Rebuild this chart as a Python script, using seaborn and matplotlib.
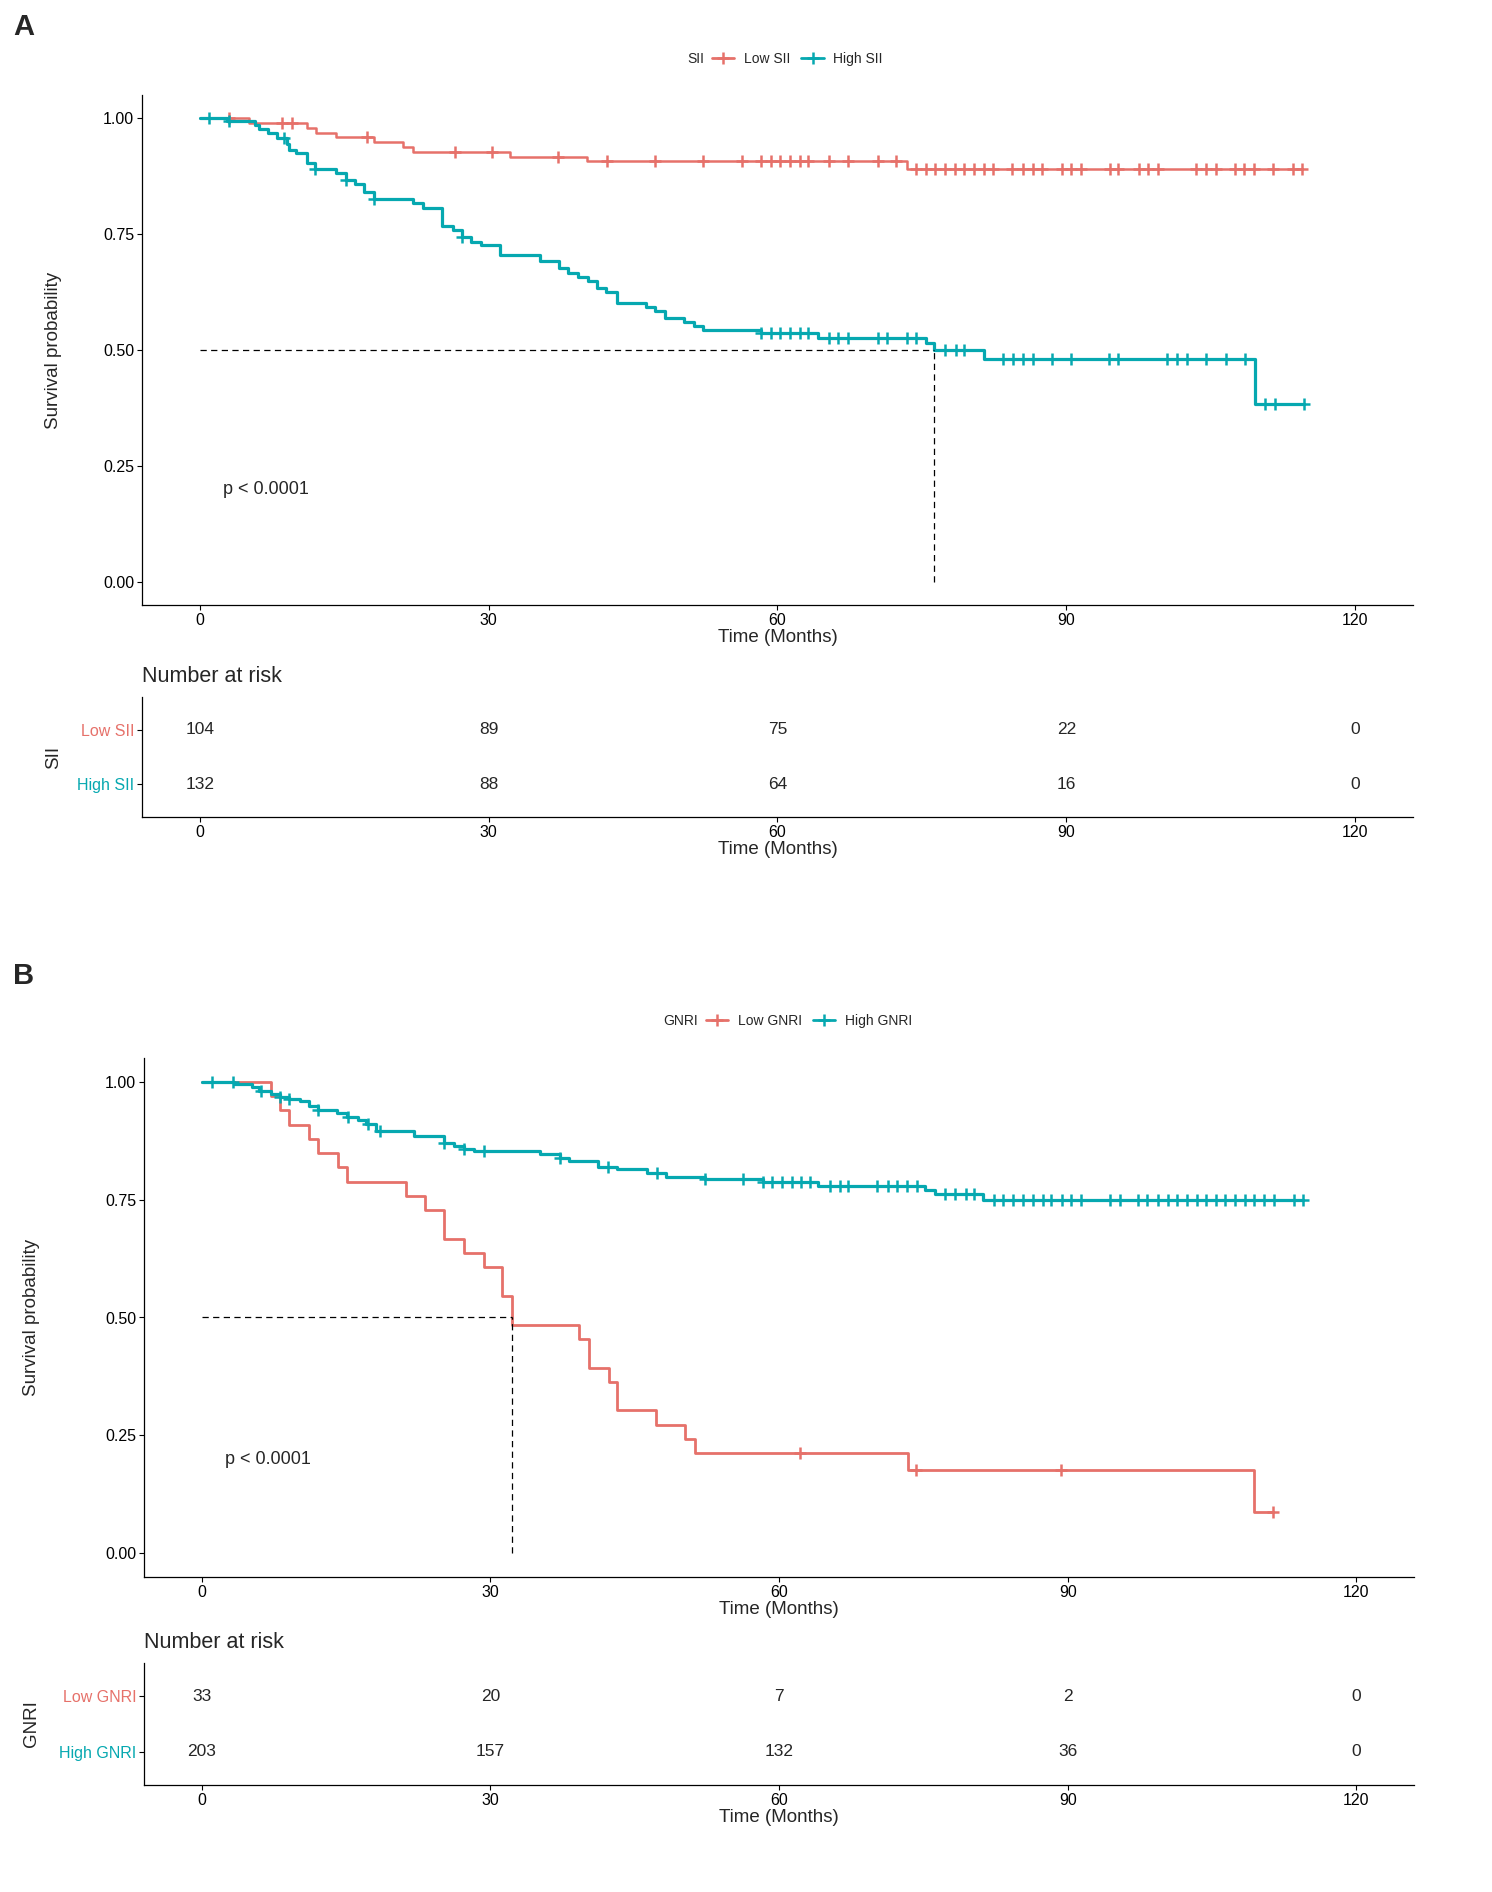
import numpy as np
import pandas as pd
import matplotlib
matplotlib.use("Agg")
import matplotlib.pyplot as plt
import seaborn as sns
from matplotlib.lines import Line2D

RED = "#E6716A"
TEAL = "#06A8B0"

# ------------------------- Panel A : SII -------------------------#
A_low_event_t = [5.1, 11.1, 12.1, 14.1, 18.1, 21.1, 22.1, 32.2, 40.2, 73.4]
A_low_surv = [0.990, 0.979, 0.969, 0.959, 0.949, 0.938, 0.928, 0.917, 0.907, 0.891]
A_low_cens = [3.0, 8.5, 9.6, 17.4, 26.5, 30.4, 37.2, 42.3, 47.3, 52.3, 56.3, 58.3,
              59.3, 60.3, 61.3, 62.3, 63.2, 65.3, 67.3, 70.4, 72.3, 74.4, 75.4, 76.4,
              77.4, 78.4, 79.4, 80.4, 81.4, 82.4, 84.4, 85.5, 86.5, 87.5, 89.5, 90.5,
              91.5, 94.5, 95.4, 97.5, 98.5, 99.5, 103.5, 104.5, 105.5, 107.5, 108.5,
              109.5, 111.5, 113.5, 114.5]

A_high_event_t = [2.8, 5.7, 6.1, 7.1, 8.0, 9.1, 9.3, 10.0, 11.1, 12.0, 14.1, 15.2,
                  16.1, 17.1, 18.1, 22.1, 23.2, 25.2, 26.3, 27.2, 28.2, 29.2, 31.2,
                  35.3, 37.3, 38.2, 39.3, 40.3, 41.3, 42.2, 43.3, 46.3, 47.3, 48.3,
                  50.3, 51.3, 52.3, 58.3, 64.2, 75.4, 76.3, 81.4, 109.6]
A_high_surv = [0.993, 0.985, 0.976, 0.967, 0.958, 0.945, 0.932, 0.924, 0.904, 0.891,
               0.881, 0.866, 0.858, 0.841, 0.825, 0.816, 0.807, 0.767, 0.759, 0.744,
               0.734, 0.726, 0.705, 0.692, 0.676, 0.667, 0.658, 0.649, 0.633, 0.626,
               0.602, 0.593, 0.585, 0.568, 0.560, 0.552, 0.543, 0.536, 0.525, 0.516,
               0.500, 0.480, 0.384]
A_high_cens = [1.0, 3.0, 8.7, 12.0, 15.2, 18.1, 27.2, 58.3, 59.3, 60.3, 61.3, 62.3,
               63.2, 65.3, 66.3, 67.3, 70.4, 71.4, 73.4, 74.4, 77.4, 78.5, 79.4, 83.4,
               84.5, 85.5, 86.5, 88.5, 90.5, 94.4, 95.4, 100.5, 101.5, 102.5, 104.5,
               106.6, 108.6, 110.6, 111.7, 114.7]

A_median = 76.3
A_groups = ["Low SII", "High SII"]
A_risk_times = [0, 30, 60, 90, 120]
A_risk_low = [104, 89, 75, 22, 0]
A_risk_high = [132, 88, 64, 16, 0]

# ------------------------- Panel B : GNRI -------------------------#
B_low_event_t = [7.2, 8.1, 9.1, 11.2, 12.1, 14.2, 15.1, 21.2, 23.2, 25.2, 27.3, 29.3,
                 31.2, 32.2, 39.2, 40.2, 42.3, 43.2, 47.2, 50.2, 51.3, 73.4, 109.4]
B_low_surv = [0.970, 0.939, 0.909, 0.879, 0.848, 0.818, 0.788, 0.758, 0.727, 0.667,
              0.636, 0.606, 0.545, 0.485, 0.455, 0.394, 0.364, 0.303, 0.273, 0.242,
              0.212, 0.177, 0.088]
B_low_cens = [62.2, 74.2, 89.3, 111.3]

B_high_event_t = [3.4, 5.2, 6.0, 7.2, 8.1, 9.1, 10.2, 11.2, 12.1, 14.1, 15.1, 16.2,
                  17.1, 18.1, 22.1, 25.2, 26.2, 27.3, 28.3, 35.2, 37.2, 38.2, 41.2,
                  43.2, 46.3, 48.3, 52.3, 58.3, 64.1, 75.2, 76.2, 81.2]
B_high_surv = [0.995, 0.989, 0.979, 0.973, 0.968, 0.964, 0.958, 0.949, 0.939, 0.933,
               0.926, 0.919, 0.911, 0.895, 0.884, 0.870, 0.863, 0.858, 0.853, 0.846,
               0.839, 0.832, 0.819, 0.815, 0.807, 0.798, 0.793, 0.788, 0.779, 0.771,
               0.761, 0.749]
B_high_cens = [1.1, 3.2, 6.2, 8.1, 9.1, 12.1, 15.2, 17.3, 18.5, 25.2, 27.3, 29.3, 37.2,
               42.2, 47.3, 52.3, 56.3, 58.3, 59.3, 60.3, 61.3, 62.3, 63.2, 65.3, 66.3,
               67.2, 70.2, 71.3, 72.3, 73.3, 74.3, 77.3, 78.3, 79.4, 80.3, 82.3, 83.3,
               84.3, 85.4, 86.4, 87.4, 88.3, 89.4, 90.4, 91.4, 94.4, 95.4, 97.3, 98.3,
               99.4, 100.4, 101.4, 102.4, 103.4, 104.4, 105.4, 106.4, 107.4, 108.4,
               109.4, 110.4, 111.4, 113.5, 114.5]

B_median = 32.2
B_groups = ["Low GNRI", "High GNRI"]
B_risk_times = [0, 30, 60, 90, 120]
B_risk_low = [33, 20, 7, 2, 0]
B_risk_high = [203, 157, 132, 36, 0]

x_ticks = [0, 30, 60, 90, 120]
y_ticks = [0.0, 0.25, 0.5, 0.75, 1.0]

sns.set_style("ticks")
plt.rcParams['font.family'] = ['Liberation Sans', 'DejaVu Sans']

W, H = 1492, 1892
fig = plt.figure(figsize=(W / 100, H / 100), dpi=100)


def px_axes(left, top, right, bottom):
    # axes box given in pixel positions of the figure
    return fig.add_axes([left / W, 1 - bottom / H, (right - left) / W, (bottom - top) / H])


def km_frame(ev_t, surv, cens):
    end = max(ev_t[-1], max(cens))
    t = [0.0] + list(ev_t) + [end]
    s = [1.0] + list(surv) + [surv[-1]]
    return pd.DataFrame({"time": t, "surv": s})


def surv_at(ev_t, surv, times):
    idx = np.searchsorted(np.array(ev_t), np.array(times), side="right")
    s = np.concatenate([[1.0], surv])
    return s[idx]


def style_axis(ax):
    for side in ["top", "right"]:
        ax.spines[side].set_visible(False)
    for side in ["left", "bottom"]:
        ax.spines[side].set_linewidth(0.9)
        ax.spines[side].set_color("black")
    ax.tick_params(length=3.5, width=0.8, color="black", labelsize=11.5,
                   labelcolor="black", pad=2)


def draw_panel(ax, axr, curves, median, groups, risk_times, risk_rows,
               var, ylab_x):
    for df, cens_t, cens_s, color, lw in curves:
        sns.lineplot(data=df, x="time", y="surv", drawstyle="steps-post",
                     color=color, linewidth=lw, estimator=None, sort=False, ax=ax)
        ax.plot(cens_t, cens_s, linestyle="none", marker="+", ms=8, mew=1.8,
                color=color)
    # median lines
    ax.plot([0, median], [0.5, 0.5], color="black", lw=0.9, ls=(0, (5, 3.5)))
    ax.plot([median, median], [0, 0.5], color="black", lw=0.9, ls=(0, (5, 3.5)))
    ax.text(2.4, 0.2, "p < 0.0001", fontsize=13, ha="left", va="center")

    ax.set_xlim(-6, 126)
    ax.set_ylim(-0.05, 1.05)
    ax.set_xticks(x_ticks)
    ax.set_yticks(y_ticks)
    ax.set_yticklabels(["%.2f" % v for v in y_ticks])
    ax.set_xlabel("Time (Months)", fontsize=13.5, labelpad=1)
    ax.set_ylabel("Survival probability", fontsize=13.5)
    ax.yaxis.set_label_coords(ylab_x, 0.5)
    style_axis(ax)

    # risk table
    row_y = [2, 1]
    colors = [RED, TEAL]
    for y, counts in zip(row_y, risk_rows):
        for t, n in zip(risk_times, counts):
            axr.text(t, y, str(n), fontsize=12.5, ha="center", va="center")
    axr.set_xlim(-6, 126)
    axr.set_ylim(0.4, 2.6)
    axr.set_xticks(x_ticks)
    axr.set_yticks(row_y)
    axr.set_yticklabels(groups)
    axr.set_xlabel("Time (Months)", fontsize=13.5, labelpad=1)
    axr.set_ylabel(var, fontsize=13.5)
    axr.yaxis.set_label_coords(ylab_x, 0.5)
    style_axis(axr)
    for lab, c in zip(axr.get_yticklabels(), colors):
        lab.set_color(c)


def legend(var, groups, title_x, keys_x, y):
    fig.text(title_x / W, 1 - y / H, var, fontsize=10, ha="left", va="center")
    handles = [Line2D([0], [0], color=RED, lw=2, marker="+", ms=8, mew=1.8),
               Line2D([0], [0], color=TEAL, lw=2, marker="+", ms=8, mew=1.8)]
    fig.legend(handles, groups, loc="center left",
               bbox_to_anchor=(keys_x / W, 1 - y / H), frameon=False, ncol=2,
               fontsize=10, handlelength=1.6, handletextpad=0.7, columnspacing=0.8,
               borderpad=0, borderaxespad=0)


# ---------- A ----------
axA = px_axes(142, 95, 1413, 605)
axA_r = px_axes(142, 697, 1413, 817)
curvesA = [
    (km_frame(A_low_event_t, A_low_surv, A_low_cens), A_low_cens,
     surv_at(A_low_event_t, A_low_surv, A_low_cens), RED, 1.8),
    (km_frame(A_high_event_t, A_high_surv, A_high_cens), A_high_cens,
     surv_at(A_high_event_t, A_high_surv, A_high_cens), TEAL, 2.3),
]
draw_panel(axA, axA_r, curvesA, A_median, A_groups, A_risk_times,
           [A_risk_low, A_risk_high], "SII", (62 - 142) / 1271)
legend("SII", A_groups, 687, 712, 59)
fig.text(24 / W, 1 - 27 / H, "A", fontsize=21, fontweight="bold", ha="center", va="center")
fig.text(142 / W, 1 - 676 / H, "Number at risk", fontsize=15.5, ha="left", va="center")

# ---------- B ----------
axB = px_axes(144, 1058, 1414, 1577)
axB_r = px_axes(144, 1663, 1414, 1785)
curvesB = [
    (km_frame(B_low_event_t, B_low_surv, B_low_cens), B_low_cens,
     surv_at(B_low_event_t, B_low_surv, B_low_cens), RED, 2.0),
    (km_frame(B_high_event_t, B_high_surv, B_high_cens), B_high_cens,
     surv_at(B_high_event_t, B_high_surv, B_high_cens), TEAL, 2.3),
]
draw_panel(axB, axB_r, curvesB, B_median, B_groups, B_risk_times,
           [B_risk_low, B_risk_high], "GNRI", (40 - 144) / 1270)
legend("GNRI", B_groups, 663, 706, 1021)
fig.text(24 / W, 1 - 976 / H, "B", fontsize=21, fontweight="bold", ha="center", va="center")
fig.text(144 / W, 1 - 1642 / H, "Number at risk", fontsize=15.5, ha="left", va="center")

fig.savefig("out.png", dpi=100)
